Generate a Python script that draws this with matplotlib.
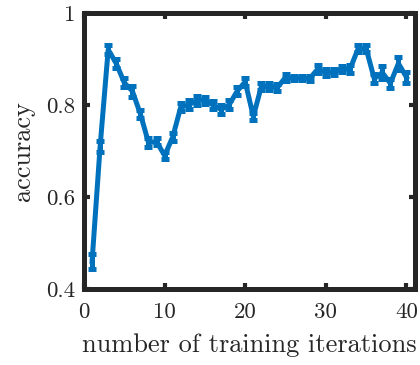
import matplotlib
matplotlib.use("Agg")
import matplotlib.pyplot as plt
import numpy as np

iterations = list(range(1, 41))
accuracy = [0.46, 0.71, 0.92, 0.89, 0.848, 0.83, 0.78, 0.718, 0.72, 0.69,
            0.73, 0.795, 0.80, 0.81, 0.81, 0.80, 0.79, 0.80, 0.83, 0.85,
            0.775, 0.84, 0.84, 0.838, 0.86, 0.858, 0.858, 0.857, 0.878, 0.87,
            0.871, 0.878, 0.878, 0.922, 0.922, 0.857, 0.87, 0.847, 0.89, 0.86]
errors = [0.016, 0.012, 0.01, 0.01, 0.01, 0.012, 0.009, 0.009, 0.008, 0.008,
          0.008, 0.008, 0.01, 0.01, 0.008, 0.009, 0.009, 0.01, 0.009, 0.008,
          0.008, 0.008, 0.007, 0.008, 0.008, 0.005, 0.005, 0.006, 0.008, 0.008,
          0.006, 0.006, 0.008, 0.007, 0.008, 0.01, 0.014, 0.01, 0.014, 0.012]
xticks = [0, 10, 20, 30, 40]
yticks = [0.4, 0.6, 0.8, 1.0]
ytick_labels = ["0.4", "0.6", "0.8", "1"]

plt.rcParams['font.family'] = ['cmr10', 'DejaVu Serif']
plt.rcParams['mathtext.fontset'] = 'cm'

fig = plt.figure(figsize=(4.2, 3.65), dpi=100)
ax = fig.add_axes([0.2, 0.208, 0.787, 0.757])
blue = '#0072BD'
ax.errorbar(iterations, accuracy, yerr=errors, color=blue, lw=3.6,
            elinewidth=3.6, capsize=2.8, capthick=3.6, zorder=3)

ax.set_xlim(0, 41)
ax.set_ylim(0.4, 1.0)
ax.set_xticks(xticks)
ax.set_xticklabels([str(t) for t in xticks])
ax.set_yticks(yticks)
ax.set_yticklabels(ytick_labels)

dark = '#262626'
for s in ax.spines.values():
    s.set_linewidth(3.6)
    s.set_color(dark)
ax.tick_params(direction='in', length=4, width=3, colors=dark,
               top=True, right=True, labelsize=16.5)
ax.tick_params(axis='y', pad=6)
ax.tick_params(axis='x', pad=10)
ax.set_xlabel('number of training iterations', fontsize=19, color=dark, labelpad=8)
ax.set_ylabel('accuracy', fontsize=19, color=dark, labelpad=8)

fig.savefig('out.png', dpi=100)
